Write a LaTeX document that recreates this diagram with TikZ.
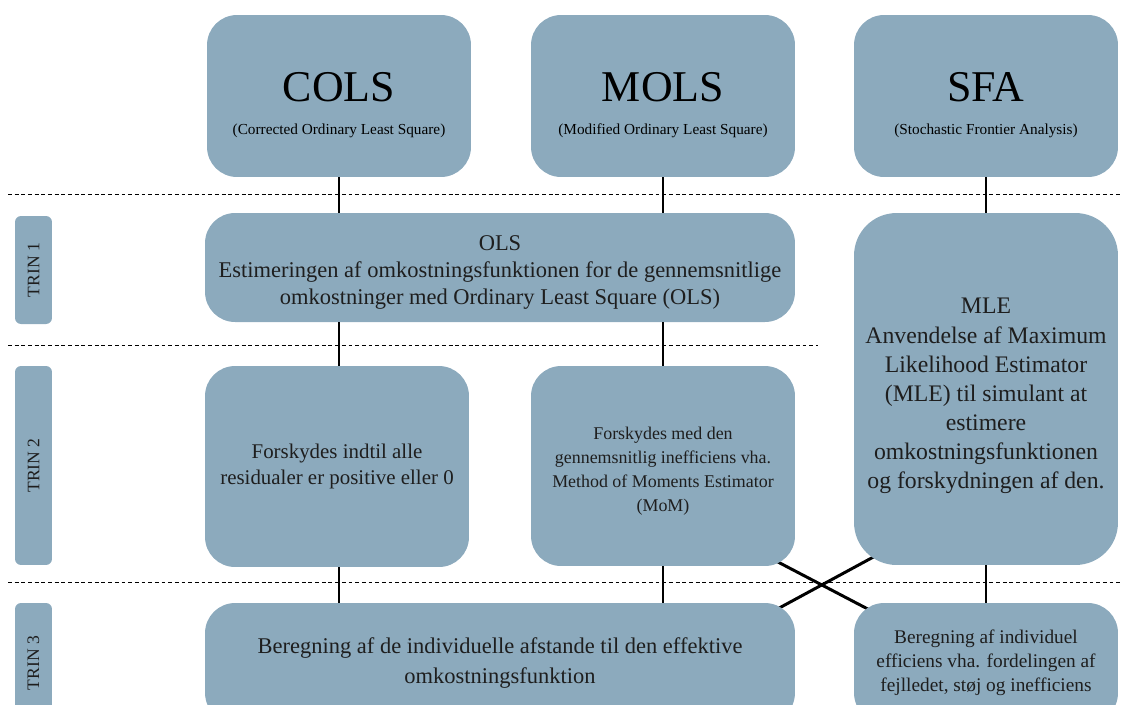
\documentclass[tikz,border=0pt]{standalone}
\usepackage{fontspec}
\setmainfont{Liberation Serif}
\usetikzlibrary{positioning, calc}
\pgfdeclarelayer{background}
\pgfsetlayers{background,main}
\definecolor{boxblue}{RGB}{140,170,189}
\definecolor{boxtext}{RGB}{30,30,30}
\newcommand{\bigtitle}[2]{{\fontsize{25}{25}\selectfont\rule{0pt}{27pt}#1}\\{\fontsize{8.7}{19}\selectfont #2}}

\begin{document}
\begin{tikzpicture}[
                    x=0.02cm, y=-0.02cm,
                    box/.style={fill=boxblue, rounded corners=0.6cm, align=center, text=boxtext, inner sep=2pt, font=\fontsize{12.8}{15.3}\selectfont},
                    head/.style={box, minimum width=5.28cm, minimum height=3.24cm, text=black, font=\fontsize{8.7}{19}\selectfont},
                    trin/.style={fill=boxblue, rounded corners=0.12cm, rotate=90, minimum height=0.74cm, text=boxtext, font=\fontsize{10}{12}\selectfont},
                    link/.style={line width=1.1pt},
                    cross/.style={line width=1.7pt},
                    sep/.style={thin, dash pattern=on 2.2pt off 1.6pt}
                ]
                \path[use as bounding box, clip] (0,0) rectangle (1121,704);

                % headers
                \node[head] (cols) at (339,96) {\bigtitle{COLS}{(Corrected Ordinary Least Square)}};
                \node[head] (mols) at (663,96) {\bigtitle{MOLS}{(Modified Ordinary Least Square)}};
                \node[head] (sfa) at (986,96) {\bigtitle{SFA}{(Stochastic Frontier Analysis)}};

                % step labels
                \node[trin, minimum width=2.16cm] (trin1) at (33.5,270) {TRIN 1};
                \node[trin, minimum width=3.98cm] (trin2) at (33.5,465.5) {TRIN 2};
                \node[trin, minimum width=2.4cm] (trin3) at (33.5,663) {TRIN 3};

                % step 1
                \node[box, minimum width=11.8cm, minimum height=2.18cm] (ols) at (500,267.5)
                    {\rule{0pt}{14pt}OLS\\Estimeringen af omkostningsfunktionen for de gennemsnitlige\\omkostninger med Ordinary Least Square (OLS)};
                \node[box, minimum width=5.28cm, minimum height=7.04cm, rounded corners=0.85cm, font=\fontsize{13.5}{16.6}\selectfont] (mle) at (986,389)
                    {\rule{0pt}{17pt}MLE\\Anvendelse af Maximum\\Likelihood Estimator\\(MLE) til simulant at\\estimere\\omkostningsfunktionen\\og forskydningen af den.};

                % step 2
                \node[box, minimum width=5.28cm, minimum height=4.02cm, font=\fontsize{11.9}{15.3}\selectfont] (fcols) at (337,466.5)
                    {Forskydes indtil alle\\residualer er positive eller 0};
                \node[box, minimum width=5.28cm, minimum height=4cm, font=\fontsize{10.2}{13.6}\selectfont] (fmols) at (663,466)
                    {\rule{0pt}{13pt}Forskydes med den\\gennemsnitlig inefficiens vha.\\Method of Moments Estimator\\(MoM)};

                % step 3
                \node[box, minimum width=11.8cm, minimum height=2.4cm, font=\fontsize{12.8}{17}\selectfont] (ols3) at (500,663)
                    {Beregning af de individuelle afstande til den effektive\\omkostningsfunktion};
                \node[box, minimum width=5.28cm, minimum height=2.4cm, font=\fontsize{11}{13.8}\selectfont] (sfa3) at (986,663)
                    {Beregning af individuel\\efficiens vha. fordelingen af\\fejlledet, støj og inefficiens};

                % separators
                \draw[sep] (8,194) -- (1121,194);
                \draw[sep] (8,345) -- (818,345);
                \draw[sep] (8,582) -- (1121,582);

                % connectors
                \draw[link] (cols) -- (cols |- ols.north);
                \draw[link] (mols) -- (mols |- ols.north);
                \draw[link] (sfa) -- (mle);
                \draw[link] (cols |- ols.south) -- (cols |- fcols.north);
                \draw[link] (mols |- ols.south) -- (fmols);
                \draw[link] (cols |- fcols.south) -- (cols |- ols3.north);
                \draw[link] (fmols) -- (fmols |- ols3.north);
                \draw[link] (mle) -- (sfa3);
                \begin{pgfonlayer}{background}
                    \draw[cross] ($(fmols.south east)+(-55,-24)$) -- ($(sfa3.north west)+(46,23)$);
                    \draw[cross] ($(ols3.north east)+(-45,21)$) -- ($(mle.south west)+(56,-28)$);
                \end{pgfonlayer}
            \end{tikzpicture}
\end{document}
